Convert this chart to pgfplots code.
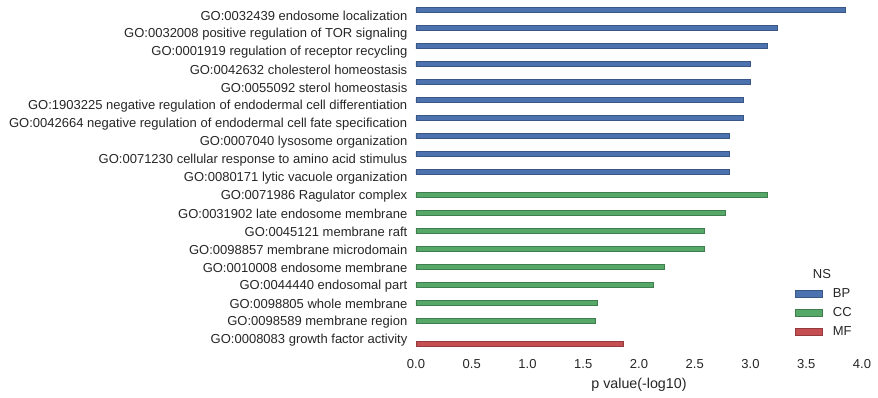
\documentclass[border=0pt]{standalone}
\usepackage{pgfplots}
\pgfplotsset{compat=1.18}
\usepackage{fontspec}
\setmainfont{Liberation Sans}
\definecolor{bp}{HTML}{4C72B0}
\definecolor{cc}{HTML}{55A868}
\definecolor{mf}{HTML}{C44E52}
\definecolor{txt}{HTML}{262626}
\begin{document}
\begin{tikzpicture}
\useasboundingbox (-312pt,-36.75pt) rectangle (346.5pt,261pt);
\begin{axis}[
  at={(0,0)}, anchor=south west, scale only axis,
  width=334.5pt, height=256.5pt,
  xmin=0, xmax=4, ymin=-0.5, ymax=18.5, y dir=reverse,
  xbar, bar width=0.2667,
  axis line style={draw=none}, major tick length=0pt,
  xtick={0,0.5,1,1.5,2,2.5,3,3.5,4},
  /pgf/number format/assume math mode=true,
  xticklabel style={/pgf/number format/.cd, fixed, fixed zerofill, precision=1, /tikz/.cd, yshift=-5.25pt},
  yticklabel style={xshift=-3pt, yshift=-0.6pt},
  ticklabel style={font=\fontsize{9.75}{11}\selectfont, text=txt},
  ytick={0,...,18},
  yticklabels={
    {GO:0032439 endosome localization},
    {GO:0032008 positive regulation of TOR signaling},
    {GO:0001919 regulation of receptor recycling},
    {GO:0042632 cholesterol homeostasis},
    {GO:0055092 sterol homeostasis},
    {GO:1903225 negative regulation of endodermal cell differentiation},
    {GO:0042664 negative regulation of endodermal cell fate specification},
    {GO:0007040 lysosome organization},
    {GO:0071230 cellular response to amino acid stimulus},
    {GO:0080171 lytic vacuole organization},
    {GO:0071986 Ragulator complex},
    {GO:0031902 late endosome membrane},
    {GO:0045121 membrane raft},
    {GO:0098857 membrane microdomain},
    {GO:0010008 endosome membrane},
    {GO:0044440 endosomal part},
    {GO:0098805 whole membrane},
    {GO:0098589 membrane region},
    {GO:0008083 growth factor activity}},
  xlabel={p value(-log10)},
  xlabel style={font=\fontsize{10.7}{12}\selectfont, text=txt, yshift=-0.3pt},
  legend style={at={(rel axis cs:0.849,0.183)}, anchor=north west, draw=none, fill=none,
    inner sep=0pt, row sep=1.9pt, font=\fontsize{9.75}{11}\selectfont, text=txt},
  legend cell align=left,
  legend image code/.code={\draw[#1] (0pt,-2.8pt) rectangle (20pt,2.8pt); \path (26pt,0pt);},
]
\addplot[fill=bp, draw=bp!75!black, line width=0.5pt, bar shift=-0.2667] coordinates {
  (3.85,0) (3.24,1) (3.15,2) (3.00,3) (3.00,4) (2.94,5) (2.94,6) (2.81,7) (2.81,8) (2.81,9)};
\addplot[fill=cc, draw=cc!75!black, line width=0.5pt, bar shift=0] coordinates {
  (3.15,10) (2.77,11) (2.59,12) (2.59,13) (2.23,14) (2.13,15) (1.63,16) (1.61,17)};
\addplot[fill=mf, draw=mf!75!black, line width=0.5pt, bar shift=0.2667] coordinates {
  (1.86,18)};
\legend{BP,CC,MF}
\end{axis}
\node[font=\fontsize{9.75}{11}\selectfont, text=txt] at (304.5pt,55.5pt) {NS};
\end{tikzpicture}
\end{document}
